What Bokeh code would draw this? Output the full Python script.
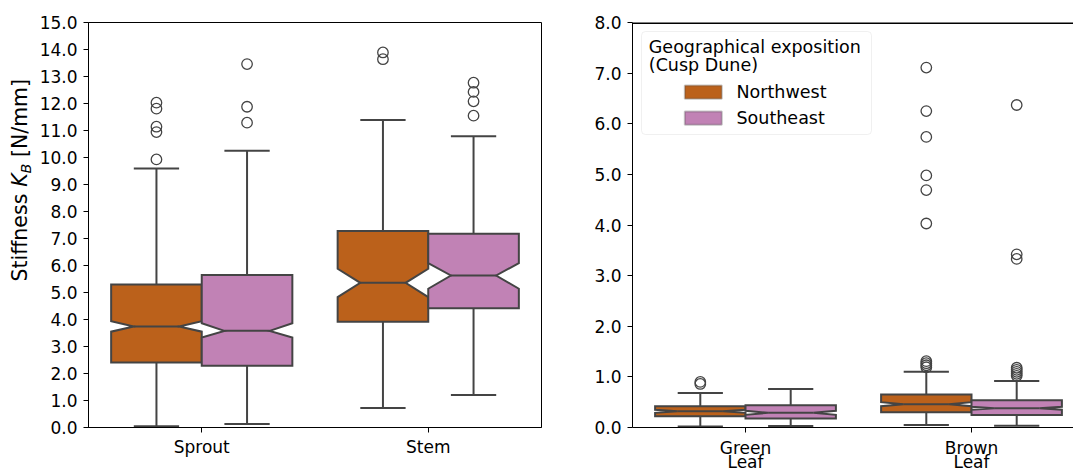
import math

from bokeh.embed import file_html
from bokeh.layouts import column, row
from bokeh.models import (BoxAnnotation, ColumnDataSource, FixedTicker, Label,
                          PrintfTickFormatter, Range1d, Span)
from bokeh.plotting import figure
from bokeh.resources import INLINE

# ---------------------------------------------------------------- data
expositions = ["Northwest", "Southeast"]
exposition_colors = ["#bb611b", "#c182b5"]

# stiffness of sprouts and stems; order per organ: Northwest, Southeast
organs_left = ["Sprout", "Stem"]
left_q1 = [2.41, 2.29, 3.92, 4.42]
left_median = [3.74, 3.58, 5.36, 5.63]
left_q3 = [5.30, 5.65, 7.28, 7.18]
left_ci_low = [3.55, 3.33, 4.83, 5.14]
left_ci_high = [3.94, 3.86, 5.88, 6.09]
left_whisker_low = [0.05, 0.13, 0.72, 1.20]
left_whisker_high = [9.59, 10.25, 11.39, 10.79]
left_outliers = [
    [9.93, 10.94, 11.14, 11.81, 12.03],
    [11.29, 11.88, 13.46],
    [13.64, 13.89],
    [11.55, 12.08, 12.43, 12.77],
]

# stiffness of green and brown leaves
organs_right = ["Green Leaf", "Brown Leaf"]
right_q1 = [0.22, 0.18, 0.30, 0.245]
right_median = [0.32, 0.29, 0.46, 0.38]
right_q3 = [0.42, 0.44, 0.65, 0.54]
right_ci_low = [0.29, 0.25, 0.42, 0.35]
right_ci_high = [0.35, 0.33, 0.50, 0.41]
right_whisker_low = [0.02, 0.03, 0.05, 0.035]
right_whisker_high = [0.68, 0.76, 1.10, 0.92]
right_outliers = [
    [0.86, 0.90],
    [],
    [1.19, 1.23, 1.27, 1.31, 4.03, 4.69, 4.98, 5.74, 6.25, 7.11],
    [1.02, 1.06, 1.10, 1.14, 1.18, 3.33, 3.42, 6.37],
]

left_ticks = [0.0, 1.0, 2.0, 3.0, 4.0, 5.0, 6.0, 7.0, 8.0, 9.0, 10.0,
              11.0, 12.0, 13.0, 14.0, 15.0]
right_ticks = [0.0, 1.0, 2.0, 3.0, 4.0, 5.0, 6.0, 7.0, 8.0]

# ---------------------------------------------------------------- style
FONT = "DejaVu Sans"
TICK_SIZE = "17px"
LINE = "#444444"
BOX_HALF = 0.2  # half width of one box (two boxes fill 0.8 of a category)
H = 471
STRIP = 34      # height of the category-name strip under the right panel


def draw_boxes(p, organs, q1, med, q3, ci_lo, ci_hi, w_lo, w_hi, outliers):
    xs, ys, colors = [], [], []
    wx0, wy0, wx1, wy1 = [], [], [], []
    mx0, mx1, my = [], [], []
    ox, oy = [], []
    k = 0
    for i, _ in enumerate(organs):
        for j, _ in enumerate(expositions):
            cx = i + (j - 0.5) * 2 * BOX_HALF
            L, R = cx - BOX_HALF, cx + BOX_HALF
            nL, nR = cx - BOX_HALF / 2, cx + BOX_HALF / 2
            xs.append([L, R, R, nR, R, R, L, L, nL, L])
            ys.append([q1[k], q1[k], ci_lo[k], med[k], ci_hi[k], q3[k],
                       q3[k], ci_hi[k], med[k], ci_lo[k]])
            colors.append(exposition_colors[j])
            # whiskers
            wx0 += [cx, cx]
            wx1 += [cx, cx]
            wy0 += [q1[k], q3[k]]
            wy1 += [w_lo[k], w_hi[k]]
            # caps
            wx0 += [nL, nL]
            wx1 += [nR, nR]
            wy0 += [w_lo[k], w_hi[k]]
            wy1 += [w_lo[k], w_hi[k]]
            # median
            mx0.append(nL)
            mx1.append(nR)
            my.append(med[k])
            for v in outliers[k]:
                ox.append(cx)
                oy.append(v)
            k += 1

    p.segment(x0=wx0, y0=wy0, x1=wx1, y1=wy1, line_color=LINE, line_width=2)
    p.patches(xs="xs", ys="ys", fill_color="color", line_color=LINE,
              line_width=2, line_join="miter",
              source=ColumnDataSource(dict(xs=xs, ys=ys, color=colors)))
    p.segment(x0=mx0, y0=my, x1=mx1, y1=my, line_color=LINE, line_width=2)
    p.scatter(ox, oy, marker="circle", size=10.5, fill_color=None,
              line_color=LINE, line_width=1.3)


def style_axes(p, yticks):
    p.xgrid.visible = False
    p.ygrid.visible = False
    for ax in (p.xaxis[0], p.yaxis[0]):
        ax.axis_line_color = "black"
        ax.axis_line_width = 1
        ax.major_tick_line_color = "black"
        ax.major_tick_line_width = 1
        ax.major_tick_out = 5
        ax.major_tick_in = 0
        ax.minor_tick_line_color = None
        ax.major_label_text_font = FONT
        ax.major_label_text_font_size = TICK_SIZE
        ax.major_label_text_color = "black"
    p.yaxis.ticker = FixedTicker(ticks=yticks)
    p.yaxis.formatter = PrintfTickFormatter(format="%.1f")
    p.yaxis.major_label_standoff = 6
    p.xaxis.ticker = FixedTicker(ticks=[0, 1])
    p.xaxis.major_label_standoff = 4


def blank(width, height, **kw):
    f = figure(width=width, height=height, output_backend="svg",
               toolbar_location=None, x_axis_type=None, y_axis_type=None,
               min_border=0, **kw)
    f.outline_line_color = None
    f.xgrid.visible = False
    f.ygrid.visible = False
    return f


# ---------------------------------------------------------------- y title strip
t = blank(36, H, x_range=Range1d(0, 1), y_range=Range1d(0, 1))
ylab = dict(x_units="screen", y_units="screen", angle=math.pi / 2,
            text_font=FONT, text_font_size="20.5px", text_color="black",
            text_align="left", text_baseline="middle")
t.add_layout(Label(x=19.8, y=146, text="Stiffness", **ylab))
t.add_layout(Label(x=19.8, y=240.7, text="K", text_font_style="italic",
                   **ylab))
t.add_layout(Label(x=25.8, y=254.1, text="B", text_font_style="italic",
                   **dict(ylab, text_font_size="14.3px")))
t.add_layout(Label(x=19.8, y=270.4, text="[N/mm]", **ylab))

# ---------------------------------------------------------------- left panel
p1 = figure(width=524, height=H, x_range=Range1d(-0.5, 1.5),
            y_range=Range1d(0, 15), output_backend="svg",
            toolbar_location=None, min_border_left=52, min_border_right=19,
            min_border_top=22, min_border_bottom=44)
p1.outline_line_color = "black"
p1.outline_line_width = 1
style_axes(p1, left_ticks)
p1.xaxis.major_label_overrides = {i: name for i, name in enumerate(organs_left)}
draw_boxes(p1, organs_left, left_q1, left_median, left_q3, left_ci_low,
           left_ci_high, left_whisker_low, left_whisker_high, left_outliers)

# ---------------------------------------------------------------- right panel
p2 = figure(width=513, height=H - STRIP,
            x_range=Range1d(-0.5, -0.5 + 441 / 226),
            y_range=Range1d(0, 8), output_backend="svg",
            toolbar_location=None, min_border_left=72, min_border_right=0,
            min_border_top=22, min_border_bottom=44 - STRIP)
p2.outline_line_color = None
style_axes(p2, right_ticks)
# category names are written in the strip below, on two lines
p2.xaxis.major_label_overrides = {0: "", 1: ""}
p2.xaxis.major_label_text_font_size = "0px"
p2.xaxis.major_label_standoff = 0
p2.add_layout(Span(location=8, dimension="width", line_color="black",
                   line_width=3))
draw_boxes(p2, organs_right, right_q1, right_median, right_q3, right_ci_low,
           right_ci_high, right_whisker_low, right_whisker_high,
           right_outliers)

# legend
p2.add_layout(BoxAnnotation(left=9, right=239, top=396, bottom=293,
                            left_units="screen", right_units="screen",
                            top_units="screen", bottom_units="screen",
                            fill_color="white", fill_alpha=0.8,
                            line_color="#cccccc", line_width=1,
                            border_radius=4))
leg_text = dict(x_units="screen", y_units="screen", text_font=FONT,
                text_font_size="17.5px", text_color="black",
                text_align="left", text_baseline="middle")
p2.add_layout(Label(x=16.3, y=380.6, text="Geographical exposition",
                    **leg_text))
p2.add_layout(Label(x=16.3, y=362.4, text="(Cusp Dune)", **leg_text))
for j, name in enumerate(expositions):
    top = 342 - 26 * j
    p2.add_layout(BoxAnnotation(left=52.3, right=89.3, top=top,
                                bottom=top - 13.3,
                                left_units="screen", right_units="screen",
                                top_units="screen", bottom_units="screen",
                                fill_color=exposition_colors[j], fill_alpha=1,
                                line_color=LINE, line_width=2))
    p2.add_layout(Label(x=104, y=top - 6.7, text=name, **leg_text))

# two-line category names, sharing the right panel's x scale
s2 = blank(513, STRIP, x_range=p2.x_range, y_range=Range1d(0, 1))
s2.min_border_left = 72
for i, name in enumerate(organs_right):
    for line_no, word in enumerate(name.split(" ")):
        s2.add_layout(Label(x=i, y=24 - 14.5 * line_no, x_units="data",
                            y_units="screen", text=word, text_font=FONT,
                            text_font_size=TICK_SIZE, text_color="black",
                            text_align="center", text_baseline="middle"))

layout = row(t, p1, column(p2, s2))
open("out.html", "w").write(file_html(layout, INLINE))
